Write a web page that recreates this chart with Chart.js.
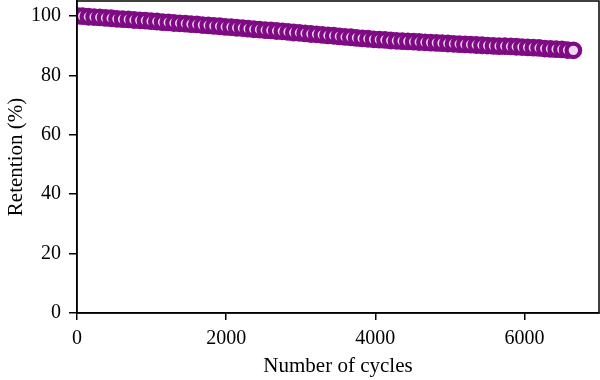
<!DOCTYPE html>
<html>
<head>
<meta charset="utf-8">
<script src="https://cdn.jsdelivr.net/npm/chart.js@4/dist/chart.umd.min.js"></script>
<style>
html,body{margin:0;padding:0;background:#fff;}
#wrap{width:600px;height:380px;}
</style>
</head>
<body>
<div id="wrap"><canvas id="c" width="600" height="380"></canvas></div>
<script>
const cycles = [0,77,153,230,306,383,459,536,612,689,765,842,918,995,1071,1148,1224,1301,1377,1454,1530,1607,1683,1760,1836,1913,1989,2066,2142,2219,2295,2372,2448,2525,2601,2678,2754,2831,2907,2984,3060,3137,3213,3290,3366,3443,3519,3596,3672,3749,3825,3902,3978,4055,4131,4208,4284,4361,4437,4514,4590,4667,4743,4820,4896,4973,5049,5126,5202,5279,5355,5432,5508,5585,5661,5738,5814,5891,5967,6044,6120,6197,6273,6350,6426,6503,6579,6656];
const retention = [100.0,99.9,99.7,99.6,99.5,99.3,99.2,99.0,98.9,98.8,98.6,98.5,98.4,98.2,98.1,97.9,97.8,97.6,97.5,97.4,97.2,97.1,96.9,96.8,96.6,96.5,96.3,96.2,96.0,95.9,95.7,95.5,95.4,95.2,95.1,94.9,94.8,94.6,94.4,94.3,94.1,93.9,93.8,93.6,93.4,93.3,93.1,92.9,92.8,92.6,92.4,92.3,92.1,92.0,91.9,91.7,91.6,91.5,91.4,91.3,91.2,91.1,91.0,90.9,90.8,90.7,90.6,90.5,90.4,90.3,90.2,90.1,90.0,89.9,89.8,89.8,89.7,89.6,89.5,89.4,89.3,89.2,89.0,88.9,88.8,88.7,88.5,88.4];
const xTicks = [0,2000,4000,6000];
const yTicks = [0,20,40,60,80,100];

const points = cycles.map((c,i)=>({x:c,y:retention[i]}));
const serif = "'Liberation Serif','DejaVu Serif',serif";

const frame = {
  id:'frame',
  afterDraw(chart){
    const {ctx, chartArea:a} = chart;
    ctx.save();
    ctx.strokeStyle = '#000';
    ctx.lineWidth = 1.5;
    ctx.strokeRect(a.left, a.top, a.right-a.left, a.bottom-a.top);
    ctx.restore();
  }
};

new Chart(document.getElementById('c'), {
  type:'scatter',
  data:{datasets:[{
    data:points,
    showLine:false,
    clip:{left:0, top:false, right:false, bottom:false},
    pointRadius:6.8,
    pointBorderWidth:4.2,
    pointBorderColor:'#7e0a84',
    pointBackgroundColor:'#f3d6f3',
    pointHoverRadius:6.8
  }]},
  options:{
    responsive:false,
    animation:false,
    events:[],
    layout:{autoPadding:false, padding:{top:1,right:1,left:0,bottom:0}},
    plugins:{legend:{display:false},tooltip:{enabled:false}},
    scales:{
      x:{
        type:'linear', min:0, max:7000,
        afterBuildTicks(s){ s.ticks = xTicks.map(v=>({value:v})); },
        afterFit(s){ s.height = 67; s.paddingLeft = 0; s.paddingRight = 0; },
        grid:{display:true, drawOnChartArea:false, drawTicks:true, tickLength:7, color:'#000', lineWidth:1.5},
        border:{display:true, color:'#000', width:1.5},
        ticks:{color:'#000', font:{family:serif, size:20}, padding:7, maxRotation:0, callback:(v)=>String(v)},
        title:{display:true, text:'Number of cycles', color:'#000', font:{family:serif, size:21}, padding:{top:0,bottom:1}}
      },
      y:{
        type:'linear', min:0, max:105,
        afterBuildTicks(s){ s.ticks = yTicks.map(v=>({value:v})); },
        afterFit(s){ s.width = 77; s.paddingTop = 0; s.paddingBottom = 0; },
        grid:{display:true, drawOnChartArea:false, drawTicks:true, tickLength:8, color:'#000', lineWidth:1.5},
        border:{display:true, color:'#000', width:1.5},
        ticks:{color:'#000', font:{family:serif, size:20}, padding:8, callback:(v)=>String(v)},
        title:{display:true, text:'Retention (%)', color:'#000', font:{family:serif, size:21}, padding:{top:4,bottom:0}}
      }
    }
  },
  plugins:[frame]
});
</script>
</body>
</html>
